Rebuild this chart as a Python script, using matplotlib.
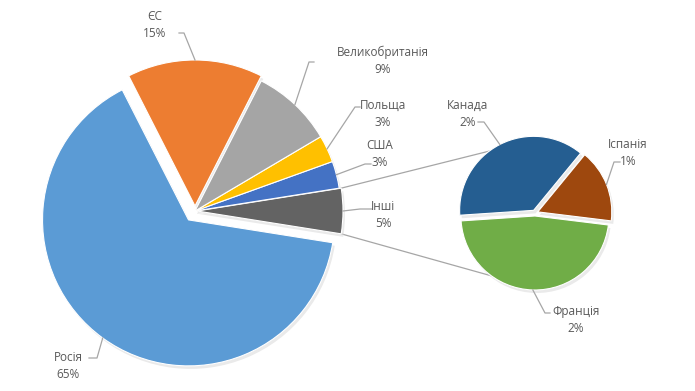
import numpy as np
import matplotlib.pyplot as plt

plt.rcParams['font.family'] = ['Open Sans', 'DejaVu Sans']

# data (main pie, counterclockwise from the right side)
main_labels = ['США', 'Польща', 'Великобританія', 'ЄС', 'Росія']
main_values = [3, 3, 9, 15, 65]
main_colors = ['#4472C4', '#FFC000', '#A5A5A5', '#ED7D31', '#5B9BD5']

# the "Інші" slice is split out into the small pie
other_labels = ['Іспанія', 'Канада', 'Франція']
other_values = [0.8, 1.85, 2.35]
other_colors = ['#9E480E', '#255E91', '#70AD47']

W, H = 695, 391
TXT = '#595959'
LINE = '#A6A6A6'

labels1 = ['Інші'] + main_labels
values1 = [sum(other_values)] + main_values
colors1 = ['#636363'] + main_colors
total = sum(values1)

fig = plt.figure(figsize=(W / 100, H / 100), dpi=100)
ax = fig.add_axes([0, 0, 1, 1])


def P(x, y):
    # picture coords (y down) -> axes coords (y up)
    return x, H - y


c1, r1 = P(195, 211), 146
c2, r2 = P(535, 213), 74
# explode offsets are in data units (= pixels here)
ex1 = [2, 0, 0, 0, 5, 11]
ex2 = [3, 3, 3]

# soft shadow behind the slices
ax.pie(values1, colors=['#dcdcdc'] * 6, startangle=-9, radius=r1,
       center=(c1[0] + 2, c1[1] - 3), explode=ex1,
       wedgeprops=dict(linewidth=0, alpha=0.6))
ax.pie(other_values, colors=['#dcdcdc'] * 3, startangle=-7, radius=r2,
       center=(c2[0] + 2, c2[1] - 3), explode=ex2,
       wedgeprops=dict(linewidth=0, alpha=0.6))

w1, _ = ax.pie(values1, colors=colors1, startangle=-9, radius=r1, center=c1,
               explode=ex1, wedgeprops=dict(edgecolor='white', linewidth=0.8))
w2, _ = ax.pie(other_values, colors=other_colors, startangle=-7, radius=r2,
               center=c2, explode=ex2,
               wedgeprops=dict(edgecolor='white', linewidth=0.8))

# connector lines between the two pies
oth = w1[0]
for th, th2 in [(oth.theta2, 120), (oth.theta1, -118)]:
    a = np.radians(th)
    b = np.radians(th2)
    x0 = oth.center[0] + oth.r * np.cos(a)
    y0 = oth.center[1] + oth.r * np.sin(a)
    x1 = c2[0] + r2 * np.cos(b)
    y1 = c2[1] + r2 * np.sin(b)
    ax.plot([x0, x1], [y0, y1], color=LINE, lw=0.9, zorder=0.5)

# label layout: text centre, leader start, leader elbow (picture coords)
lay1 = {
    'Інші': ((383, 215), (372, 209), (360, 209)),
    'США': ((380, 154), (371, 164), (365, 164)),
    'Польща': ((383, 114), (360, 107), (355, 107)),
    'Великобританія': ((383, 61), (314, 62), (309, 62)),
    'ЄС': ((155, 25), (179, 33), (184, 33)),
    'Росія': ((68, 366), (89, 358), (97, 358)),
}
lay2 = {
    'Іспанія': ((628, 153), (620, 162), (614, 162)),
    'Канада': ((468, 114), (478, 122), (484, 122)),
    'Франція': ((576, 320), (550, 313), (545, 313)),
}


def put_labels(wedges, names, vals, lay):
    for w, name, v in zip(wedges, names, vals):
        (tx, ty), s, e = lay[name]
        mid = np.radians((w.theta1 + w.theta2) / 2)
        ax_ = w.center[0] + w.r * np.cos(mid)
        ay_ = w.center[1] + w.r * np.sin(mid)
        xs = [P(*s)[0], P(*e)[0], ax_]
        ys = [P(*s)[1], P(*e)[1], ay_]
        ax.plot(xs, ys, color=LINE, lw=0.9)
        ax.text(*P(tx, ty), f'{name}\n{round(v / total * 100):.0f}%',
                ha='center', va='center', fontsize=8.5, color=TXT,
                linespacing=1.45)


put_labels(w1, labels1, values1, lay1)
put_labels(w2, other_labels, other_values, lay2)

ax.set_xlim(0, W)
ax.set_ylim(0, H)
ax.set_aspect('equal')
ax.axis('off')

fig.savefig('out.png', dpi=100)
